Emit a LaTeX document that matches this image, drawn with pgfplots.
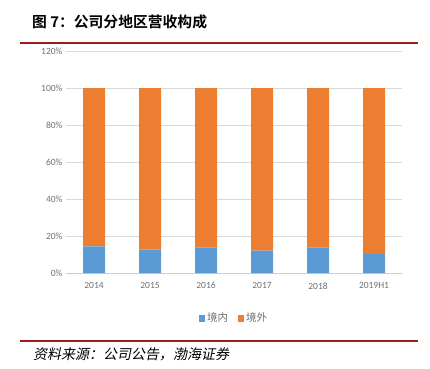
\documentclass[border=0pt]{standalone}
\usepackage{pgfplots}
\pgfplotsset{compat=1.18}
\usepackage{fontspec}
\setmainfont{Carlito}
\newfontfamily\cjk{Noto Sans CJK SC}
\newfontfamily\cjkb{Noto Sans CJK SC Bold}
\newfontfamily\cjki[FakeSlant=0.2]{Noto Sans CJK SC}
\definecolor{cblue}{HTML}{5B9BD5}
\definecolor{corange}{HTML}{ED7D31}
\definecolor{tgray}{HTML}{6F6F6F}
\definecolor{gridc}{HTML}{D9D9D9}
\definecolor{rulec}{HTML}{9E1B1B}
\begin{document}
\begin{tikzpicture}[x=1pt,y=1pt]
\path[use as bounding box] (0,0) rectangle (430,368);
\draw[rulec, line width=1.6pt] (20,325) -- (418,325);
\draw[rulec, line width=1.4pt] (20,27) -- (418,27);
\node[anchor=west, inner sep=0] at (32,346) {\cjkb\fontsize{14.8}{16}\selectfont 图 7：公司分地区营收构成};
\node[anchor=west, inner sep=0] at (33,14) {\cjki\fontsize{14}{14}\selectfont 资料来源：公司公告，渤海证券};
\begin{axis}[
  at={(66pt,95pt)}, anchor=south west,
  scale only axis, width=336pt, height=222pt,
  ybar stacked, bar width=22pt,
  xmin=-0.5, xmax=5.5, ymin=0, ymax=120,
  xtick=data, xticklabels={2014,2015,2016,2017,2018,2019H1},
  ytick={0,20,40,60,80,100,120},
  yticklabel={\pgfmathprintnumber{\tick}\%},
  /pgf/number format/assume math mode=true,
  ticklabel style={font=\fontsize{9.5}{10}\selectfont, text=tgray},
  major tick length=0pt,
  axis line style={draw=none},
  xmajorgrids=false, ymajorgrids=true, grid style={color=gridc, line width=0.8pt},
  xtick style={draw=none}, ytick style={draw=none},
  xtick pos=bottom,
  xticklabel style={yshift=-6pt},
  legend style={at={(0.5,-0.203)}, anchor=center, draw=none, legend columns=2,
    font=\cjk\fontsize{10.5}{11}\selectfont, text=tgray,
    /tikz/every even column/.append style={column sep=8pt}},
  legend image code/.code={\fill[#1] (0,-3.5pt) rectangle (6pt,3.5pt);},
  every axis plot/.append style={draw=none},
]
\addplot[fill=cblue] coordinates {(0,14.4) (1,12.6) (2,13.9) (3,12.1) (4,13.9) (5,10.2)};
\addplot[fill=corange] coordinates {(0,85.6) (1,87.4) (2,86.1) (3,87.9) (4,86.1) (5,89.8)};
\legend{境内,境外}
\draw[gridc!85!gray, line width=1pt] (axis cs:-0.5,0) -- (axis cs:5.5,0);
\end{axis}
\end{tikzpicture}
\end{document}
